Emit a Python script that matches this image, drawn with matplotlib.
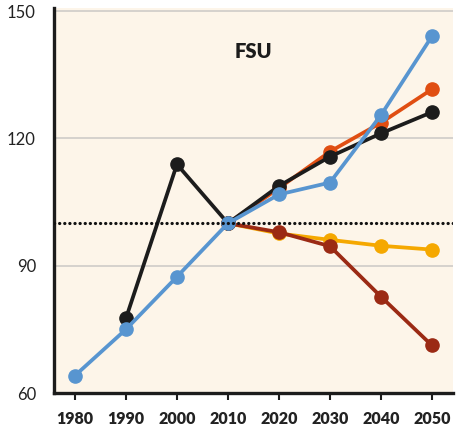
import matplotlib
matplotlib.use("Agg")
import matplotlib.pyplot as plt

plt.rcParams['font.family'] = ['Lato', 'DejaVu Sans']

# years on the x axis
years = [1980, 1990, 2000, 2010, 2020, 2030, 2040, 2050]

# series (index, 2010 = 100)
blue_years = [1980, 1990, 2000, 2010, 2020, 2030, 2040, 2050]
blue_vals = [64.1, 75.0, 87.4, 100, 106.8, 109.6, 125.5, 144.1]

black_years = [1990, 2000, 2010, 2020, 2030, 2040, 2050]
black_vals = [77.6, 113.9, 100, 108.8, 115.7, 121.2, 126.2]

orange_years = [2010, 2020, 2030, 2040, 2050]
orange_vals = [100, 108.3, 116.9, 123.7, 131.6]

yellow_years = [2010, 2020, 2030, 2040, 2050]
yellow_vals = [100, 97.6, 96.1, 94.7, 93.8]

darkred_years = [2010, 2020, 2030, 2040, 2050]
darkred_vals = [100, 97.9, 94.6, 82.7, 71.2]

yticks = [60, 90, 120, 150]
baseline = 100

fig = plt.figure(figsize=(4.66, 4.29), dpi=100)
ax = fig.add_axes([0.1159, 0.0839, 0.856, 0.897])
ax.set_facecolor('#FDF5E9')

for y in yticks[1:]:
    ax.axhline(y, color='#CFCCC8', lw=1.2, zorder=1)

lw, ms = 2.7, 9.5
ax.plot(yellow_years, yellow_vals, color='#F5A800', lw=lw, marker='o', ms=ms, zorder=3)
ax.plot(darkred_years, darkred_vals, color='#9B2A14', lw=lw, marker='o', ms=ms, zorder=4)
ax.plot(orange_years, orange_vals, color='#E04E12', lw=lw, marker='o', ms=ms, zorder=5)
ax.plot(black_years, black_vals, color='#1C1C1C', lw=lw, marker='o', ms=ms, zorder=6)
ax.plot(blue_years, blue_vals, color='#5895D0', lw=lw, marker='o', ms=ms, zorder=7)

# dotted 2010 = 100 reference line
ax.axhline(baseline, color='#111111', lw=2.3, ls=(0, (0.05, 1.55)),
           dash_capstyle='round', zorder=8)

ax.text(2015, 140.5, 'FSU', ha='center', va='center', fontsize=14.5, fontweight='heavy', color='#1C1C1C')

ax.set_xlim(1975.9, 2054.1)
ax.set_ylim(60, 150.7)
ax.set_xticks(years)
ax.set_xticklabels([str(y) for y in years], fontweight='heavy', fontsize=11.5, color='#222222')
ax.set_yticks(yticks)
ax.set_yticklabels([str(y) for y in yticks], fontsize=12, color='#222222')
ax.tick_params(axis='x', direction='out', length=5, width=1.5, pad=8, color='#1C1C1C')
ax.tick_params(axis='y', length=0, pad=13)

for s in ['top', 'right']:
    ax.spines[s].set_visible(False)
for s in ['left', 'bottom']:
    ax.spines[s].set_linewidth(2.4)
    ax.spines[s].set_color('#1C1C1C')

fig.savefig('out.png', dpi=100)
